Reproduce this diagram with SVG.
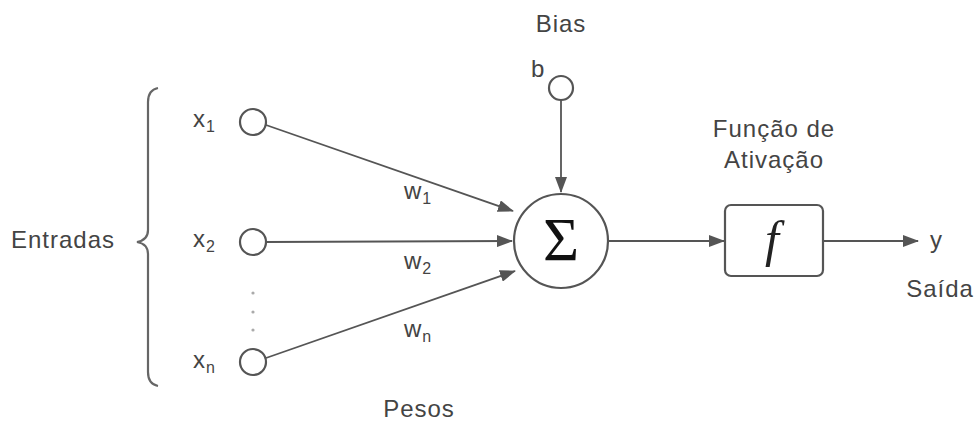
<svg xmlns="http://www.w3.org/2000/svg" width="976" height="423" viewBox="0 0 976 423">
<style>
.t{font-family:"Liberation Sans",Arial,sans-serif;font-size:24px;fill:#444;letter-spacing:1px;}
.s{font-size:16px;}
.n{fill:#fff;stroke:#555;stroke-width:2.2;}
.c{stroke:#555;stroke-width:1.8;fill:none;}
</style>
<defs>
<marker id="ah" markerWidth="16" markerHeight="12" refX="15" refY="6" orient="auto" markerUnits="userSpaceOnUse">
<path d="M0,0 L16,6 L0,12 Z" fill="#555"/>
</marker>
</defs>
<rect width="976" height="423" fill="#fff"/>
<g id="connectors">
<line class="c" x1="266" y1="125" x2="513" y2="211" marker-end="url(#ah)"/>
<line class="c" x1="266" y1="242" x2="512" y2="241" marker-end="url(#ah)"/>
<line class="c" x1="266" y1="358" x2="515" y2="271" marker-end="url(#ah)"/>
<line class="c" x1="561" y1="100" x2="561" y2="192" marker-end="url(#ah)"/>
<line class="c" x1="609" y1="241" x2="724" y2="241" marker-end="url(#ah)"/>
<line class="c" x1="823" y1="241" x2="918" y2="241" marker-end="url(#ah)"/>
</g>
<g id="brace">
<path d="M158,88 Q148,90 148,102 L148,230 Q148,240 137,242 Q148,244 148,254 L148,372 Q148,384 158,386" fill="none" stroke="#666" stroke-width="2.2"/>
</g>
<g id="entradas"><text class="t" x="63" y="248" text-anchor="middle">Entradas</text></g>
<g id="x1">
<circle class="n" cx="253" cy="122" r="13"/>
<text class="t" x="193" y="127">x<tspan class="s" dy="5">1</tspan></text>
</g>
<g id="x2">
<circle class="n" cx="253" cy="242" r="13"/>
<text class="t" x="193" y="247">x<tspan class="s" dy="5">2</tspan></text>
</g>
<g id="dots" fill="#aaa">
<circle cx="253" cy="293" r="1.6"/>
<circle cx="253" cy="312" r="1.6"/>
<circle cx="253" cy="330" r="1.6"/>
</g>
<g id="xn">
<circle class="n" cx="253" cy="362" r="13"/>
<text class="t" x="193" y="368">x<tspan class="s" dy="5">n</tspan></text>
</g>
<g id="weights">
<text class="t" x="404" y="199">w<tspan class="s" dy="5">1</tspan></text>
<text class="t" x="404" y="269">w<tspan class="s" dy="5">2</tspan></text>
<text class="t" x="404" y="337">w<tspan class="s" dy="5">n</tspan></text>
<text class="t" x="419" y="417" text-anchor="middle">Pesos</text>
</g>
<g id="bias">
<text class="t" x="561" y="32" text-anchor="middle">Bias</text>
<text class="t" x="531" y="77">b</text>
<circle class="n" cx="561" cy="88" r="12"/>
</g>
<g id="sum">
<circle class="n" cx="561" cy="241" r="47"/>
<text x="561" y="260" text-anchor="middle" font-family="Liberation Serif,serif" font-size="62" fill="#111">Σ</text>
</g>
<g id="activation">
<text class="t" x="774" y="137" text-anchor="middle">Função de</text>
<text class="t" x="774" y="168" text-anchor="middle">Ativação</text>
<rect class="n" x="725" y="205" width="98" height="71" rx="6"/>
<text x="772" y="256" text-anchor="middle" font-family="Liberation Serif,serif" font-style="italic" font-size="50" fill="#222">f</text>
</g>
<g id="output">
<text class="t" x="930" y="248">y</text>
<text class="t" x="940" y="297" text-anchor="middle">Saída</text>
</g>
</svg>
